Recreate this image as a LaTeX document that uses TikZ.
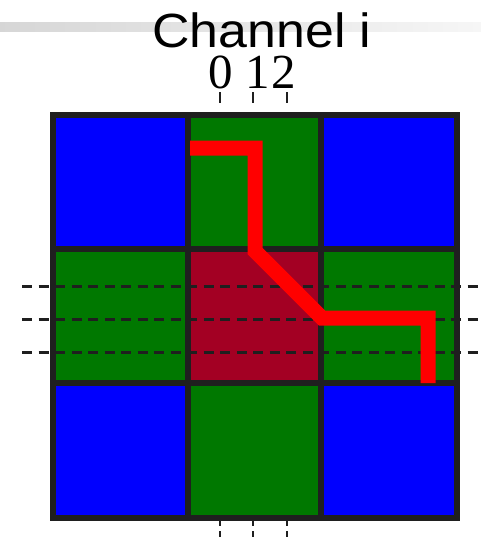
\documentclass[tikz,border=0pt]{standalone}
\usepackage{tikz}
\usepackage{xcolor}
\usepackage{fontspec}
\setmainfont{Liberation Serif}
\setsansfont{Liberation Sans}
\definecolor{cellblue}{RGB}{0,0,255}
\definecolor{cellgreen}{RGB}{0,120,0}
\definecolor{cellred}{RGB}{163,0,35}
\definecolor{gridline}{RGB}{31,31,31}
\definecolor{pathred}{RGB}{255,0,0}

\begin{document}
\begin{tikzpicture}[x=1pt,y=-1pt]
\useasboundingbox (0,0) rectangle (481,538);
% faint bar behind the title
\shade[left color=gray!32,right color=gray!7] (0,22) rectangle (481,31);
\node[font=\sffamily\fontsize{48}{48}\selectfont,anchor=base,inner sep=0pt] (title) at (262,47) {\scalebox{1.08}[1]{Channel i}};
\node[font=\fontsize{49}{49}\selectfont,anchor=base,inner sep=0pt] (ch0) at (221,88) {0};
\node[font=\fontsize{49}{49}\selectfont,anchor=base,inner sep=0pt] (ch1) at (258,88) {1};
\node[font=\fontsize{49}{49}\selectfont,anchor=base,inner sep=0pt] (ch2) at (284,88) {2};
% cells
\fill[cellblue] (53,115) rectangle (188,249);
\fill[cellgreen] (188,115) rectangle (321,249);
\fill[cellblue] (321,115) rectangle (457,249);
\fill[cellgreen] (53,249) rectangle (188,383);
\fill[cellred] (188,249) rectangle (321,383);
\fill[cellgreen] (321,249) rectangle (457,383);
\fill[cellblue] (53,383) rectangle (188,518);
\fill[cellgreen] (188,383) rectangle (321,518);
\fill[cellblue] (321,383) rectangle (457,518);
% channel rows
\draw[gridline,line width=3pt,dash pattern=on 10pt off 6.5pt] (22,286) -- (481,286);
\draw[gridline,line width=3pt,dash pattern=on 10pt off 6.5pt] (22,319) -- (481,319);
\draw[gridline,line width=3pt,dash pattern=on 10pt off 6.5pt] (22,352) -- (481,352);
% channel ticks
\draw[gridline,line width=2.4pt,dash pattern=on 11pt off 10pt] (220,92) -- (220,118);
\draw[gridline,line width=2.4pt,dash pattern=on 11pt off 10pt] (253,92) -- (253,118);
\draw[gridline,line width=2.4pt,dash pattern=on 11pt off 10pt] (287,92) -- (287,118);
\draw[gridline,line width=2.4pt,dash pattern=on 6pt off 5pt] (220,520) -- (220,538);
\draw[gridline,line width=2.4pt,dash pattern=on 6pt off 5pt] (253,520) -- (253,538);
\draw[gridline,line width=2.4pt,dash pattern=on 6pt off 5pt] (287,520) -- (287,538);
% grid
\draw[gridline,line width=5.5pt] (53,115) rectangle (457,518);
\draw[gridline,line width=5.5pt] (188,115) -- (188,518);
\draw[gridline,line width=5.5pt] (321,115) -- (321,518);
\draw[gridline,line width=5.5pt] (53,249) -- (457,249);
\draw[gridline,line width=5.5pt] (53,383) -- (457,383);
% path through the channels
\coordinate (p0) at (190,148);
\coordinate (p1) at (255,148);
\coordinate (p2) at (255,251);
\coordinate (p3) at (322,318);
\coordinate (p4) at (428,318);
\coordinate (p5) at (428,383);
\draw[pathred,line width=15pt] (p0) -- (p1) -- (p2) -- (p3) -- (p4) -- (p5);
\end{tikzpicture}
\end{document}
